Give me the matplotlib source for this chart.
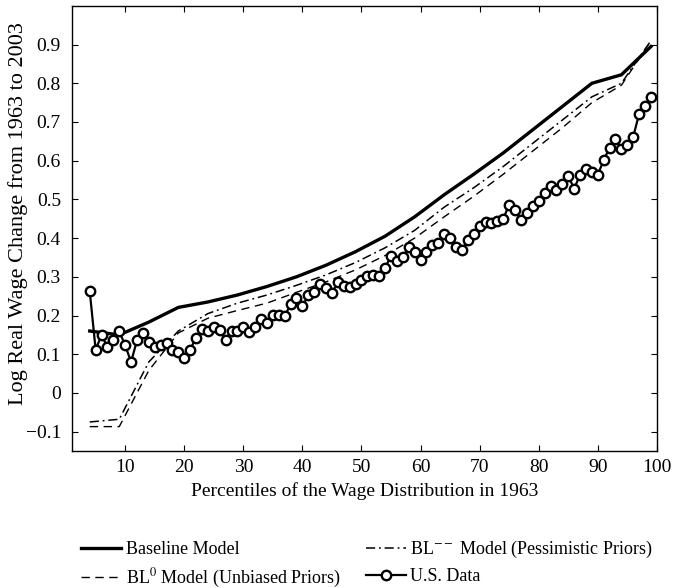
import matplotlib
matplotlib.use("Agg")
import matplotlib.pyplot as plt
import numpy as np

plt.rcParams['font.family'] = ['Liberation Serif', 'DejaVu Serif']
plt.rcParams['mathtext.fontset'] = 'stix'

# Model grid (percentiles)
model_pct = [4, 9, 14, 19, 24, 29, 34, 39, 44, 49, 54, 59, 64, 69, 74, 79, 84, 89, 94, 99]
baseline = [0.16, 0.15, 0.183, 0.221, 0.235, 0.253, 0.275, 0.30, 0.33, 0.365, 0.405, 0.455,
            0.512, 0.565, 0.62, 0.68, 0.74, 0.80, 0.822, 0.895]
bl_pess = [-0.075, -0.068, 0.08, 0.16, 0.205, 0.232, 0.253, 0.278, 0.305, 0.337, 0.375, 0.42,
           0.48, 0.53, 0.585, 0.645, 0.705, 0.765, 0.80, 0.91]
bl_unb = [-0.087, -0.087, 0.058, 0.155, 0.193, 0.213, 0.232, 0.26, 0.287, 0.318, 0.355, 0.40,
          0.455, 0.508, 0.565, 0.625, 0.685, 0.75, 0.795, 0.91]

# U.S. data, percentiles 4..99
us_pct = list(range(4, 100))
us_data = [0.263, 0.112, 0.149, 0.119, 0.136, 0.159, 0.123, 0.080, 0.136, 0.155,
           0.132, 0.119, 0.123, 0.128, 0.110, 0.106, 0.089, 0.112, 0.143, 0.165,
           0.159, 0.170, 0.162, 0.138, 0.160, 0.160, 0.170, 0.158, 0.170, 0.192,
           0.181, 0.201, 0.201, 0.198, 0.229, 0.244, 0.224, 0.252, 0.261, 0.281,
           0.270, 0.257, 0.287, 0.276, 0.274, 0.282, 0.293, 0.301, 0.304, 0.301,
           0.324, 0.353, 0.342, 0.351, 0.377, 0.364, 0.344, 0.364, 0.381, 0.387,
           0.411, 0.401, 0.378, 0.370, 0.394, 0.411, 0.432, 0.441, 0.439, 0.443,
           0.450, 0.486, 0.473, 0.447, 0.464, 0.484, 0.497, 0.516, 0.535, 0.524,
           0.541, 0.561, 0.527, 0.564, 0.578, 0.572, 0.564, 0.601, 0.634, 0.657,
           0.630, 0.641, 0.662, 0.721, 0.741, 0.765]

xticks = [10, 20, 30, 40, 50, 60, 70, 80, 90, 100]
yticks = [-0.1, 0, 0.1, 0.2, 0.3, 0.4, 0.5, 0.6, 0.7, 0.8, 0.9]
ytick_labels = ['\u22120.1', '0', '0.1', '0.2', '0.3', '0.4', '0.5', '0.6', '0.7', '0.8', '0.9']

FS = 14

fig = plt.figure(figsize=(6.73, 5.88), dpi=100)
ax = fig.add_axes([0.107, 0.233, 0.869, 0.757])

l_base, = ax.plot(model_pct, baseline, color='black', lw=2.4, solid_joinstyle='miter',
                  label='Baseline Model')
l_unb, = ax.plot(model_pct, bl_unb, color='black', lw=1.0, dashes=(6, 4),
                 label='BL$^{0}$ Model (Unbiased Priors)')
l_pess, = ax.plot(model_pct, bl_pess, color='black', lw=1.1, dashes=(6, 2.5, 1.2, 2.5),
                  label='BL$^{--}$ Model (Pessimistic Priors)')
l_us, = ax.plot(us_pct, us_data, color='black', lw=1.6, marker='o', markersize=6.8,
                markerfacecolor='white', markeredgecolor='black', markeredgewidth=1.7,
                label='U.S. Data')

ax.set_xlim(1, 100)
ax.set_ylim(-0.15, 1.0)
ax.set_xticks(xticks)
ax.set_yticks(yticks)
ax.set_yticklabels(ytick_labels)
ax.tick_params(direction='in', length=4, width=0.8, top=True, right=True, labelsize=FS)
ax.tick_params(axis='y', pad=8)
ax.tick_params(axis='x', pad=6)
for s in ax.spines.values():
    s.set_linewidth(1.0)

ax.set_xlabel('Percentiles of the Wage Distribution in 1963', fontsize=FS, labelpad=4)
fig.text(18 / 673, 1 - 214 / 588, 'Log Real Wage Change from 1963 to 2003',
         rotation=90, ha='center', va='center', fontsize=16)

fig.legend(handles=[l_base, l_unb, l_pess, l_us], ncol=2, frameon=False,
           loc='upper left', bbox_to_anchor=(0.121, 0.083), fontsize=13,
           handlelength=2.2, handletextpad=0.25, columnspacing=1.4,
           labelspacing=0.45, borderaxespad=0, borderpad=0)

fig.savefig('out.png', dpi=100)
